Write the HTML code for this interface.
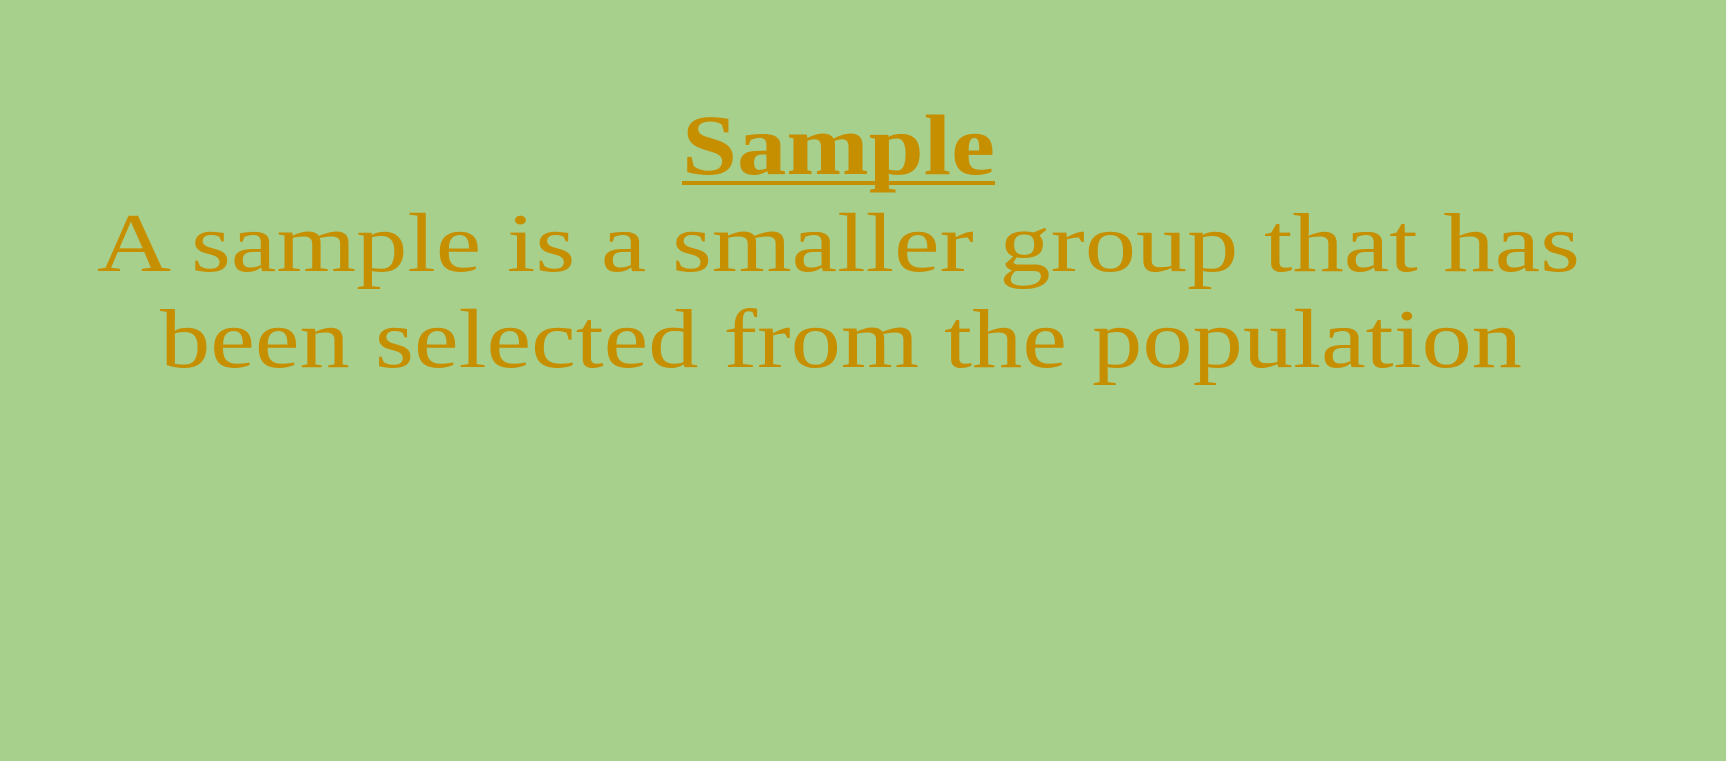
<!DOCTYPE html>
<html>
<head>
<meta charset="utf-8">
<style>
  html, body { margin: 0; padding: 0; }
  body { width: 1726px; height: 761px; background: #a8d08d; overflow: hidden; }
  svg { display: block; }
  text { font-family: "Liberation Serif", serif; fill: #c68f00; }
</style>
</head>
<body>
<svg width="1726" height="761" viewBox="0 0 1726 761">
  <rect x="0" y="0" width="1726" height="761" fill="#a8d08d"/>
  <text x="682" y="174" font-size="86" font-weight="bold" textLength="313" lengthAdjust="spacingAndGlyphs">Sample</text>
  <rect x="682" y="181" width="313" height="4" fill="#c68f00"/>
  <text x="97" y="271" font-size="84" textLength="1483" lengthAdjust="spacingAndGlyphs">A sample is a smaller group that has</text>
  <text x="160" y="367" font-size="84" textLength="1362" lengthAdjust="spacingAndGlyphs">been selected from the population</text>
</svg>
</body>
</html>
